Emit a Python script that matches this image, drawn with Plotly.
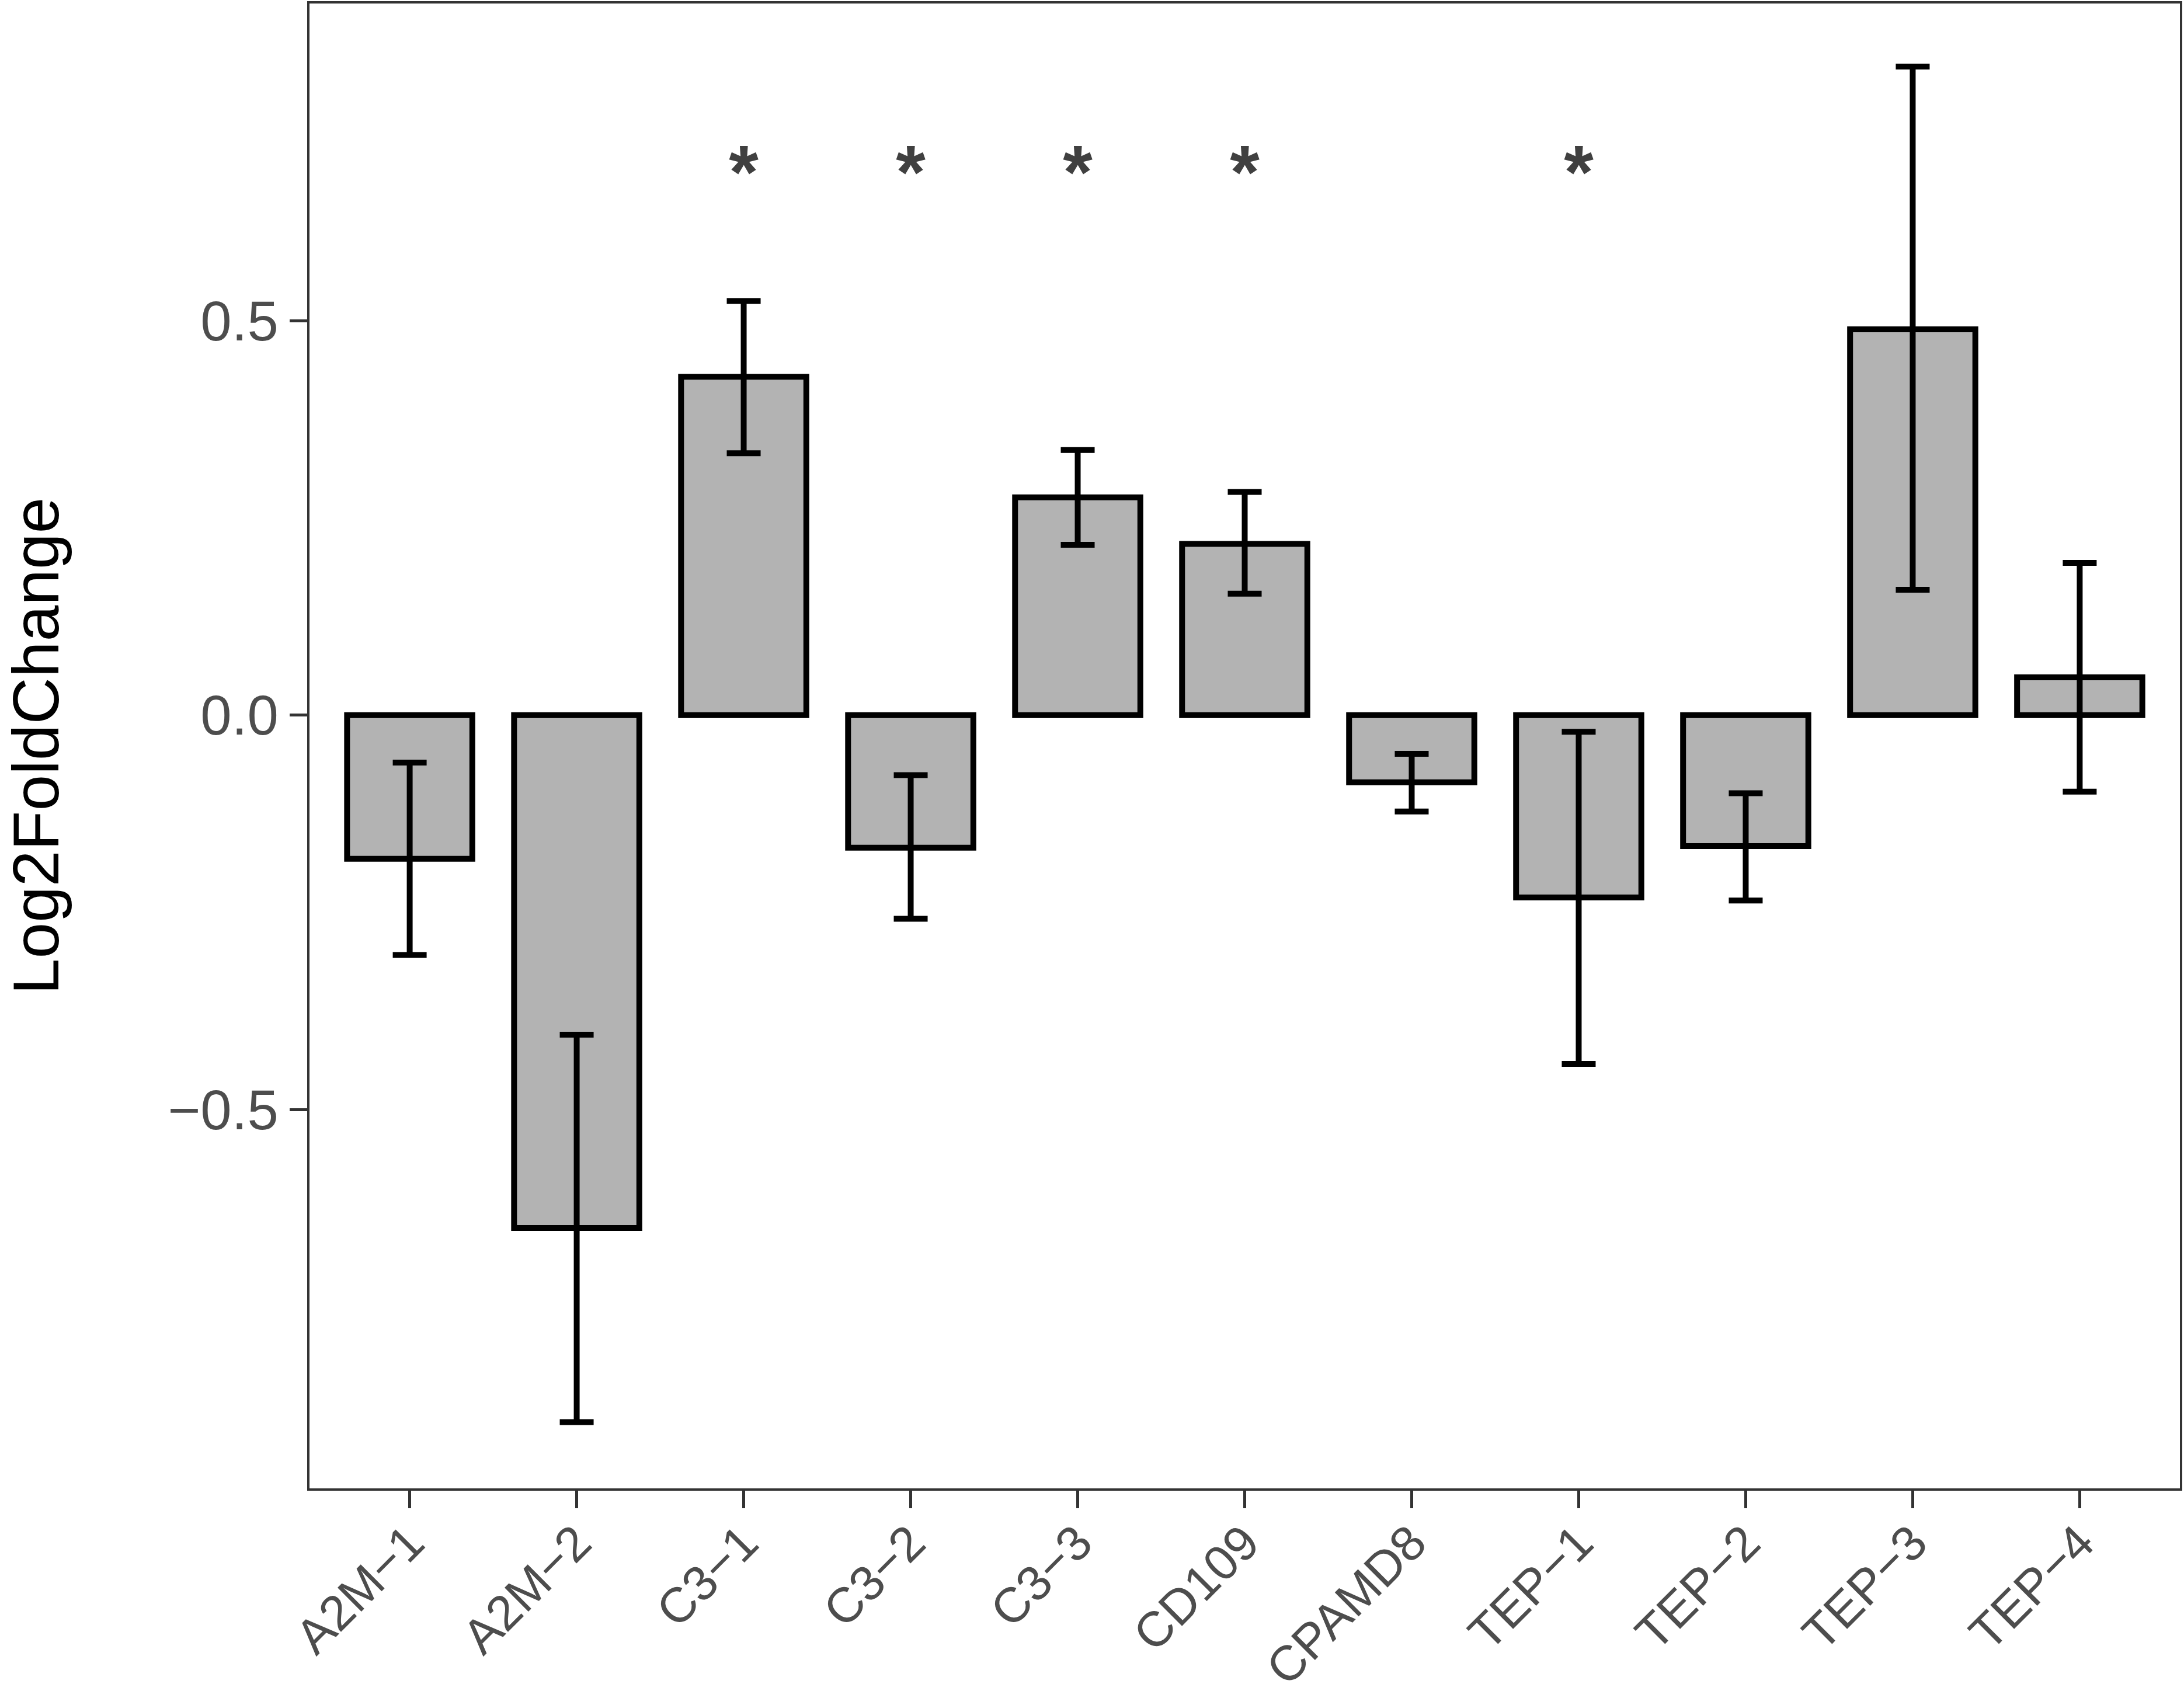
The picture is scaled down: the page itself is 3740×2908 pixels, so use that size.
import plotly.graph_objects as go

categories = ["A2M−1", "A2M−2", "C3−1", "C3−2", "C3−3", "CD109",
              "CPAMD8", "TEP−1", "TEP−2", "TEP−3", "TEP−4"]
log2fc = [-0.182, -0.650, 0.429, -0.168, 0.276, 0.217,
          -0.085, -0.231, -0.166, 0.489, 0.048]
err_upper = [-0.060, -0.405, 0.525, -0.076, 0.336, 0.283,
             -0.049, -0.021, -0.099, 0.822, 0.193]
err_lower = [-0.304, -0.896, 0.332, -0.258, 0.216, 0.154,
             -0.122, -0.442, -0.235, 0.159, -0.097]
sig_categories = ["C3−1", "C3−2", "C3−3", "CD109", "TEP−1"]
sig_y = [0.679, 0.679, 0.679, 0.679, 0.679]
sig_labels = ["*", "*", "*", "*", "*"]

plus = [u - v for u, v in zip(err_upper, log2fc)]
minus = [v - l for v, l in zip(log2fc, err_lower)]

fig = go.Figure()
fig.add_trace(go.Bar(
    x=categories, y=log2fc, width=0.75,
    marker=dict(color="#B3B3B3", line=dict(color="black", width=10)),
    error_y=dict(type="data", symmetric=False, array=plus, arrayminus=minus,
                 color="black", thickness=10, width=29),
    showlegend=False,
))
fig.add_trace(go.Scatter(
    x=sig_categories, y=sig_y, mode="text",
    text=["<b>" + s + "</b>" for s in sig_labels],
    textposition="middle center",
    textfont=dict(size=130, color="#404040", family="Liberation Sans"),
    showlegend=False,
))

axis_common = dict(showline=True, linecolor="#333333", linewidth=4, mirror=True,
                   ticks="outside", ticklen=30, tickwidth=5, tickcolor="#333333",
                   showgrid=False, zeroline=False, automargin=False)

fig.update_layout(
    width=3740, height=2908,
    margin=dict(l=530, r=7, t=6, b=359),
    plot_bgcolor="white", paper_bgcolor="white",
    font=dict(family="Liberation Sans", color="#4D4D4D"),
    xaxis=dict(range=[-0.6, 10.6], tickangle=-45, ticklabelstandoff=-24,
               tickfont=dict(size=84, color="#4D4D4D"), **axis_common),
    yaxis=dict(range=[-0.98, 0.902], tickvals=[-0.5, 0.0, 0.5],
               ticktext=["−0.5", "0.0", "0.5"],
               tickfont=dict(size=96, color="#4D4D4D"),
               title=dict(text="Log2FoldChange", font=dict(size=111, color="black"),
                          standoff=262),
               **axis_common),
)

fig.write_html("out.html", config={"displayModeBar": False},
               post_script="document.body.style.margin='0';document.body.style.overflow='hidden';")
